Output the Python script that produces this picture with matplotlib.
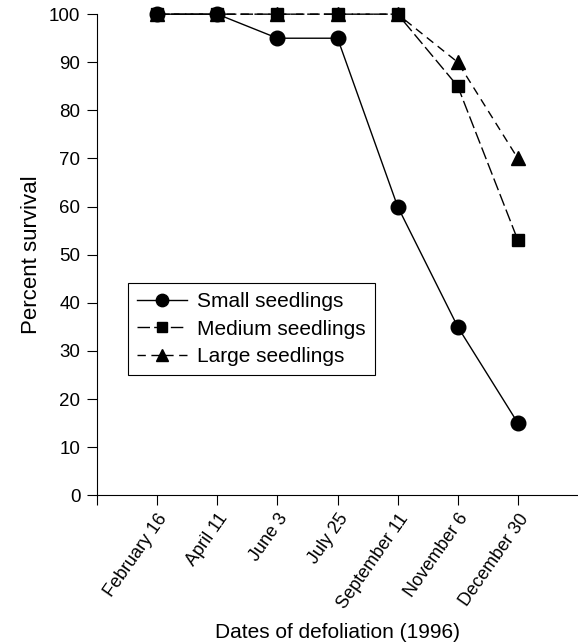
import matplotlib
matplotlib.use("Agg")
from matplotlib import pyplot as plt

plt.rcParams['font.family'] = ['Liberation Sans', 'DejaVu Sans']

# данные
dates = ["February 16", "April 11", "June 3", "July 25",
         "September 11", "November 6", "December 30"]
small = [100, 100, 95, 95, 60, 35, 15]
medium = [100, 100, 100, 100, 100, 85, 53]
large = [100, 100, 100, 100, 100, 90, 70]

x = list(range(1, len(dates) + 1))

fig = plt.figure(figsize=(5.78, 6.44), dpi=100)
ax = fig.add_axes([0.168, 0.231, 0.832, 0.747])

ax.plot(x, small, color="black", lw=1, marker="o", ms=10.5,
        label="Small seedlings", clip_on=False, zorder=3)
ax.plot(x, medium, color="black", lw=1, marker="s", ms=9,
        dashes=(9, 3), label="Medium seedlings", clip_on=False, zorder=3)
ax.plot(x, large, color="black", lw=1, marker="^", ms=10,
        dashes=(6, 4), label="Large seedlings", clip_on=False, zorder=3)

ax.set_xlim(0, 8)
ax.set_ylim(0, 100)
ax.set_yticks(range(0, 101, 10))
ax.set_xticks(x)
ax.set_xticks([0], minor=True)
ax.set_xticklabels(dates, rotation=55, ha="right", rotation_mode="anchor")
ax.tick_params(axis="both", which="both", direction="out", length=7,
               width=0.8)
ax.tick_params(axis="y", labelsize=13.5, pad=5)
ax.tick_params(axis="x", labelsize=13, pad=4)

for s in ("top", "right"):
    ax.spines[s].set_visible(False)
ax.spines["left"].set_linewidth(0.8)
ax.spines["bottom"].set_linewidth(0.8)

ax.set_ylabel("Percent survival", fontsize=16, labelpad=5)
ax.set_xlabel("Dates of defoliation (1996)", fontsize=15, labelpad=8)

leg = ax.legend(loc="upper left", bbox_to_anchor=(0.0645, 0.4407),
                borderaxespad=0, fontsize=15, fancybox=False,
                edgecolor="black", handlelength=2.4, handletextpad=0.5,
                borderpad=0.42, labelspacing=0.42, framealpha=1,
                markerscale=0.85)
leg.get_frame().set_linewidth(0.8)

fig.savefig("out.png", dpi=100)
